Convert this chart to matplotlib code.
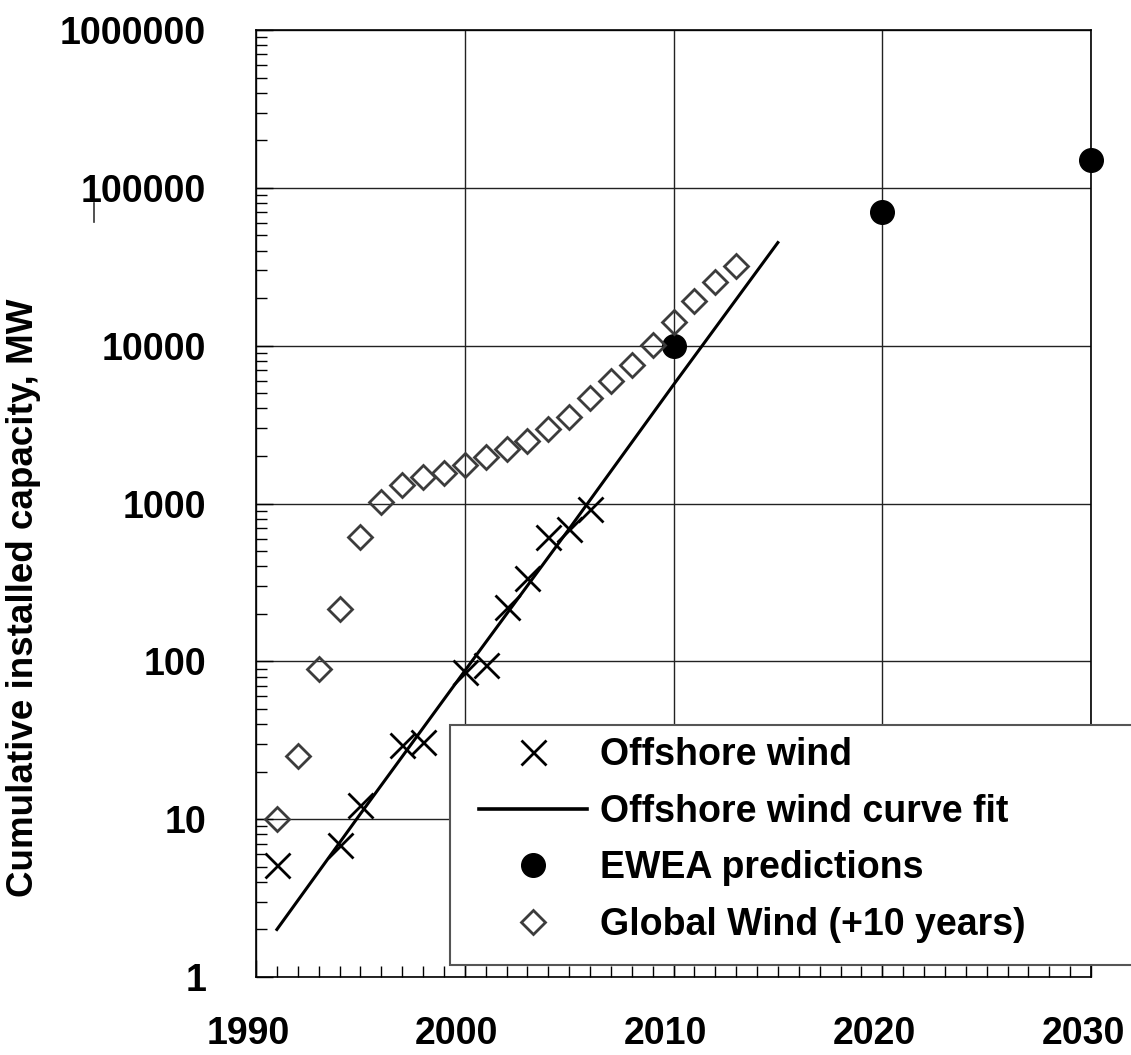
import numpy as np
import matplotlib
matplotlib.use("Agg")
import matplotlib.pyplot as plt
import matplotlib as mpl
from matplotlib.patches import Rectangle
from matplotlib.lines import Line2D
from matplotlib.transforms import ScaledTranslation

plt.rcParams['font.family'] = ['Liberation Sans', 'DejaVu Sans']
plt.rcParams['font.weight'] = 'bold'

# offshore wind, cumulative installed capacity (MW)
off_years = [1991, 1994, 1995, 1997, 1998, 2000, 2001, 2002, 2003, 2004, 2005, 2006]
off_mw = [5.1, 6.9, 12.3, 29.5, 31, 86, 95, 222, 336, 617, 690, 920]

# exponential curve fit
fit_years = [1991, 1995, 2000, 2005, 2010, 2015]
fit_mw = [2.0, 10.8, 87, 690, 5650, 45000]

# EWEA predictions
ewea_years = [2010, 2020, 2030]
ewea_mw = [10000, 70000, 150000]

# global wind shifted +10 years
glob_years = list(range(1991, 2014))
glob_mw = [10, 25, 89, 215, 617, 1028, 1312, 1468, 1570, 1757, 1965, 2208,
           2494, 2958, 3524, 4690, 5930, 7555, 10115, 14220, 19050, 25480, 32200]

labels = ["Offshore wind", "Offshore wind curve fit", "EWEA predictions",
          "Global Wind (+10 years)"]

W, H = 1131, 1055
fig = plt.figure(figsize=(W / 100, H / 100), dpi=100)
ax = fig.add_axes([256 / W, (H - 977) / H, (1091 - 256) / W, (977 - 30) / H])

ax.plot(off_years, off_mw, ls='none', marker='x', ms=18, mew=2.0, color='k', clip_on=False, zorder=4)
ax.plot(fit_years, fit_mw, '-', color='k', lw=2.2, zorder=3)
ax.plot(ewea_years, ewea_mw, ls='none', marker='o', ms=17, color='k', clip_on=False, zorder=4)
ax.plot(glob_years, glob_mw, ls='none', marker='D', ms=12.5, mfc='none', mec='#3c3c3c',
        mew=2.0, clip_on=False, zorder=4)

ax.set_yscale('log')
ax.set_xlim(1990, 2030)
ax.set_ylim(1, 1e6)
ax.set_xticks([1990, 2000, 2010, 2020, 2030])
ax.set_xticks(np.arange(1990, 2031), minor=True)
ax.set_yticks([1, 10, 100, 1000, 10000, 100000, 1000000])
ax.yaxis.set_major_formatter(mpl.ticker.FuncFormatter(lambda v, p: "%d" % round(v)))
ax.yaxis.set_minor_locator(mpl.ticker.LogLocator(base=10, subs=np.arange(2, 10)))
ax.yaxis.set_minor_formatter(mpl.ticker.NullFormatter())
ax.tick_params(which='both', direction='in', top=False, right=False, width=1, colors='k')
ax.tick_params(which='major', length=12, labelsize=27)
ax.tick_params(which='minor', length=8)
ax.tick_params(axis='y', which='major', pad=36)
ax.tick_params(axis='x', which='major', pad=28)
ax.grid(True, which='major', color='#222222', lw=1)
for s in ax.spines.values():
    s.set_linewidth(1.2)
for lab in ax.get_xticklabels():
    lab.set_transform(lab.get_transform() + ScaledTranslation(-8 / 100, 0, fig.dpi_scale_trans))

fig.text(24 / W, 1 - 598 / H, "Cumulative installed capacity, MW", rotation=90,
         fontsize=26.5, ha='center', va='center')

# small stray tick near the 100000 label
fig.add_artist(Line2D([94 / W, 94 / W], [1 - 203 / H, 1 - 222 / H], color='#333333', lw=1.2))

# legend box running off the right edge
fig.patches.append(Rectangle((449.7 / W, (H - 965) / H), 0.7, 240 / H, transform=fig.transFigure,
                             facecolor='white', edgecolor='#555555', lw=1.5, zorder=1))

handles = [Line2D([], [], ls='none', marker='x', ms=18, mew=2.0, color='k'),
           Line2D([], [], ls='-', color='k', lw=2.6),
           Line2D([], [], ls='none', marker='o', ms=17, color='k'),
           Line2D([], [], ls='none', marker='D', ms=12.5, mfc='none', mec='#3c3c3c', mew=2.0)]
fig.legend(handles, labels, loc='upper left', bbox_to_anchor=(478.8 / W, 1 - 737 / H),
           frameon=False, fontsize=27, handlelength=2.88, handletextpad=0.34,
           labelspacing=0.55, borderpad=0, borderaxespad=0)

fig.savefig("out.png", dpi=100)
